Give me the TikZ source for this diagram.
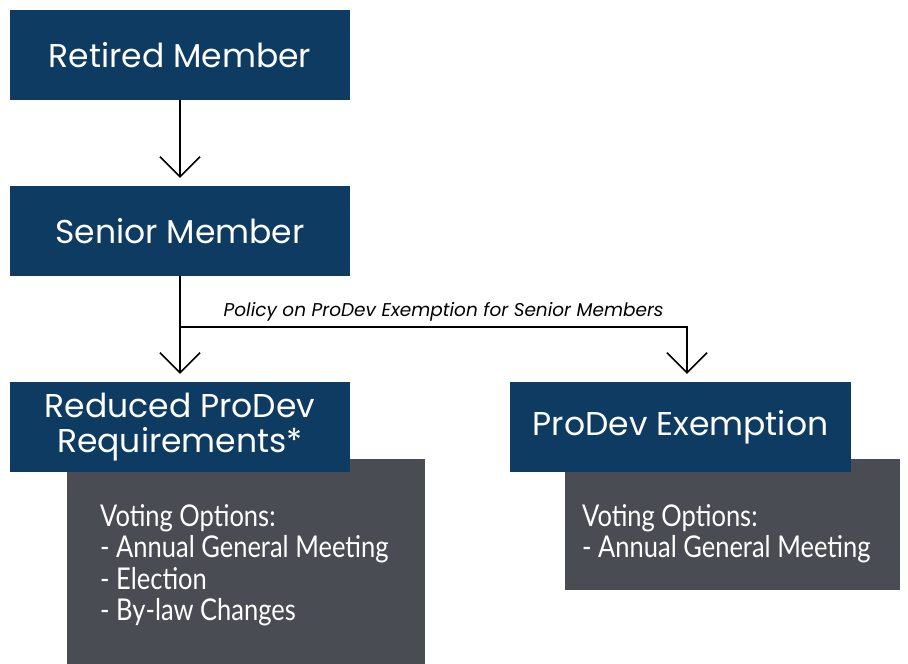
\documentclass[tikz,border=0pt]{standalone}
\usepackage{fontspec}
\setmainfont{Poppins}
\newfontfamily\votefont[FakeStretch=0.85]{Lato}
\usetikzlibrary{arrows.meta}
\definecolor{navy}{RGB}{14,59,97}
\definecolor{slate}{RGB}{73,76,82}
\tikzset{
  >={Straight Barb[length=20pt,width=40pt]},
}
\tikzstyle{level}=[fill=navy,text=white,minimum width=340,minimum height=90,align=center,inner sep=0pt,font=\fontsize{33}{35}\selectfont]
\tikzstyle{voting}=[fill=slate,inner sep=0pt,anchor=north west]
\tikzstyle{votetext}=[text=white,align=left,inner sep=0pt,anchor=north west,font=\votefont\fontsize{30}{31.5}\selectfont]
\tikzstyle{flow}=[line width=1.6pt,->,shorten >=8pt]

\begin{document}
\begin{tikzpicture}[x=1pt,y=-1pt]
  \useasboundingbox (0,0) rectangle (908,664);
  % grey boxes first, behind the blue ones
  \node[voting,minimum width=358,minimum height=205] (votesL) at (67,459) {};
  \node[voting,minimum width=335,minimum height=131] (votesR) at (565,459) {};
  \node[votetext] (votesLtxt) at (100,504) {Voting Options:\\- Annual General Meeting\\- Election\\- By-law Changes};
  \node[votetext] (votesRtxt) at (582,504) {Voting Options:\\- Annual General Meeting};

  \node[level] (retired) at (180,55) {Retired Member};
  \node[level] (senior) at (180,231) {Senior Member};
  \node[level] (reduced) at (180,427) {Reduced ProDev\\Requirements*};
  \node[level,minimum width=341] (exempt) at (680.5,427) {ProDev Exemption};

  \coordinate (split) at (180,327);
  \coordinate (splitR) at (687,327);
  \draw[flow] (retired) -- (senior);
  \draw[flow] (senior) -- (reduced);
  \draw[flow] (split) -- (splitR)
    node[pos=0.52,above=2pt,font=\itshape\fontsize{18.5}{20}\selectfont]{Policy on ProDev Exemption for Senior Members}
    -- (splitR |- exempt.north);
\end{tikzpicture}
\end{document}
